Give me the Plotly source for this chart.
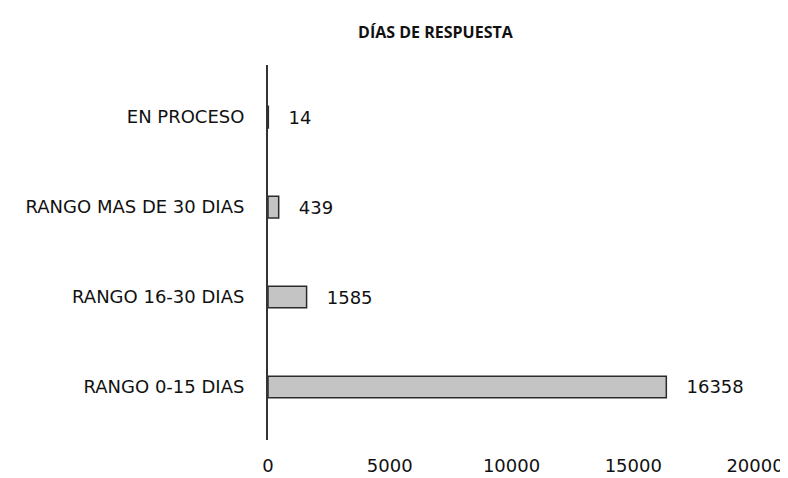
import plotly.graph_objects as go

# data (bottom to top)
categories = ['RANGO 0-15 DIAS', 'RANGO 16-30 DIAS', 'RANGO MAS DE 30 DIAS', 'EN PROCESO']
values = [16358, 1585, 439, 14]
x_ticks = [0, 5000, 10000, 15000, 20000]
x_tick_labels = ['0', '5000', '10000', '15000', '20000']

FONT = 'DejaVu Sans, Open Sans, sans-serif'
TITLE_FONT = 'Open Sans, Lato, sans-serif'

fig = go.Figure()

fig.add_trace(
    go.Bar(
        x=values,
        y=categories,
        orientation='h',
        width=0.24,
        marker=dict(color='#c4c4c4', line=dict(color='#2b2b2b', width=1.5)),
        text=['   ' + str(v) for v in values],
        textposition='outside',
        textfont=dict(family=FONT, size=18, color='#111111'),
        cliponaxis=False,
        showlegend=False
    )
)

# page has an 8px body margin, so the figure is a bit smaller than the window
fig.update_layout(
    width=780,
    height=470,
    paper_bgcolor='white',
    plot_bgcolor='white',
    margin=dict(l=260, r=33, t=57, b=38),
    title=dict(
        text='<b>DÍAS DE RESPUESTA</b>',
        x=0.548,
        xanchor='center',
        y=0.948,
        yanchor='middle',
        font=dict(family=TITLE_FONT, size=16, color='#111111')
    )
)

fig.update_xaxes(
    range=[0, 20000],
    tickvals=x_ticks,
    ticktext=x_tick_labels,
    showgrid=False,
    zeroline=False,
    showline=False,
    ticks='',
    automargin=False,
    ticklabelstandoff=13,
    tickfont=dict(family=FONT, size=18, color='#111111')
)

fig.update_yaxes(
    categoryorder='array',
    categoryarray=categories,
    range=[-0.59, 3.58],
    showgrid=False,
    zeroline=False,
    showline=True,
    linecolor='#333333',
    linewidth=2,
    ticks='',
    automargin=False,
    ticklabelstandoff=18,
    tickfont=dict(family=FONT, size=18, color='#111111')
)

fig.write_html("out.html")
